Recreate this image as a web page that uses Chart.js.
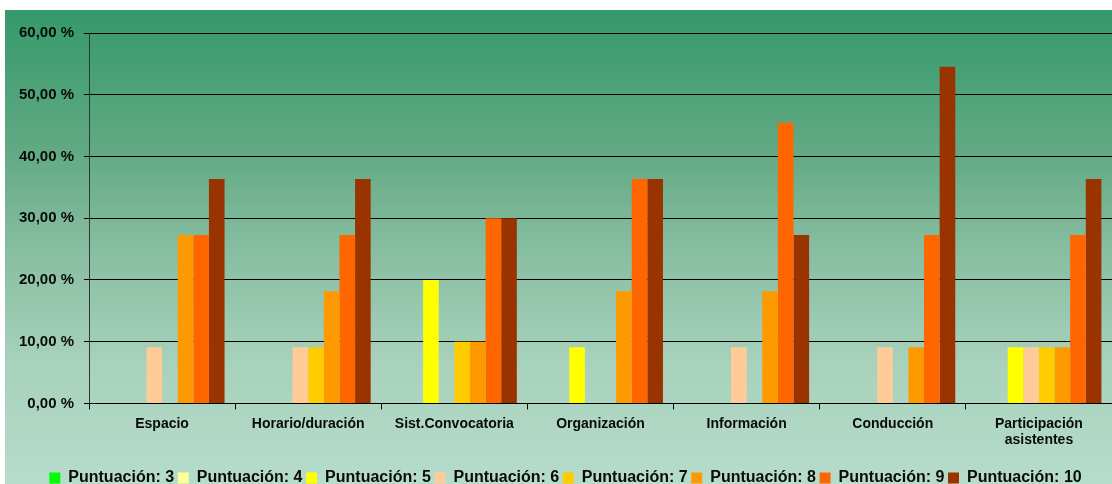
<!DOCTYPE html>
<html>
<head>
<meta charset="utf-8">
<script src="https://cdn.jsdelivr.net/npm/chart.js@4"></script>
<style>
  html, body { margin: 0; padding: 0; background: #ffffff; }
  #wrap { position: absolute; left: 5px; top: 10px; width: 1107px; height: 474px; }
</style>
</head>
<body>
<div id="wrap"><canvas id="encuesta"></canvas></div>
<script>
const categorias = ['Espacio', 'Horario/duración', 'Sist.Convocatoria', 'Organización', 'Información', 'Conducción', ['Participación', 'asistentes']];

const punt3  = [0, 0, 0, 0, 0, 0, 0];
const punt4  = [0, 0, 0, 0, 0, 0, 0];
const punt5  = [0, 0, 20, 9.09, 0, 0, 9.09];
const punt6  = [9.09, 9.09, 0, 0, 9.09, 9.09, 9.09];
const punt7  = [0, 9.09, 10, 0, 0, 0, 9.09];
const punt8  = [27.27, 18.18, 10, 18.18, 18.18, 9.09, 9.09];
const punt9  = [27.27, 27.27, 30, 36.36, 45.45, 27.27, 27.27];
const punt10 = [36.36, 36.36, 30, 36.36, 27.27, 54.55, 36.36];

const series = [
  { label: 'Puntuación: 3',  data: punt3,  color: '#00ff00' },
  { label: 'Puntuación: 4',  data: punt4,  color: '#ffff99' },
  { label: 'Puntuación: 5',  data: punt5,  color: '#ffff00' },
  { label: 'Puntuación: 6',  data: punt6,  color: '#ffcc99' },
  { label: 'Puntuación: 7',  data: punt7,  color: '#ffcc00' },
  { label: 'Puntuación: 8',  data: punt8,  color: '#ff9900' },
  { label: 'Puntuación: 9',  data: punt9,  color: '#ff6600' },
  { label: 'Puntuación: 10', data: punt10, color: '#993300' }
];

// fondo degradado verde
const fondo = {
  id: 'fondo',
  beforeDraw(chart) {
    const c = chart.ctx;
    const g = c.createLinearGradient(0, 0, 0, chart.height);
    g.addColorStop(0, '#35996a');
    g.addColorStop(0.3, '#62aa84');
    g.addColorStop(0.5, '#86bda0');
    g.addColorStop(0.75, '#a8d2bc');
    g.addColorStop(1, '#b6dccb');
    c.save();
    c.fillStyle = g;
    c.fillRect(0, 0, chart.width, chart.height);
    c.restore();
  }
};

// la leyenda va un poco desplazada a la derecha y abajo
const moverLeyenda = {
  id: 'moverLeyenda',
  afterLayout(chart) {
    const l = chart.legend;
    l.left += 7; l.right += 7;
    l.top += 2; l.bottom += 2;
  }
};

const ctx = document.getElementById('encuesta').getContext('2d');
new Chart(ctx, {
  type: 'bar',
  data: {
    labels: categorias,
    datasets: series.map(s => ({
      label: s.label,
      data: s.data,
      backgroundColor: s.color,
      borderWidth: 0,
      categoryPercentage: 0.855,
      barPercentage: 1.0
    }))
  },
  options: {
    responsive: true,
    maintainAspectRatio: false,
    animation: false,
    layout: { padding: { top: 23, right: 0, bottom: -10, left: 0 } },
    scales: {
      x: {
        grid: { display: true, drawOnChartArea: false, color: '#000000', tickLength: 6 },
        border: { color: '#000000', width: 1 },
        ticks: {
          color: '#0a0a0a',
          font: { family: 'Liberation Sans, Arial, sans-serif', size: 14, weight: 'bold' },
          padding: 6,
          maxRotation: 0,
          autoSkip: false
        },
        afterFit(scale) { scale.height = 61; }
      },
      y: {
        min: 0,
        max: 60,
        grid: { color: '#000000', lineWidth: 1, tickLength: 5 },
        border: { color: '#333333', width: 1 },
        ticks: {
          stepSize: 10,
          color: '#0a0a0a',
          padding: 10,
          font: { family: 'Liberation Sans, Arial, sans-serif', size: 15, weight: 'bold' },
          callback: v => v.toFixed(2).replace('.', ',') + ' %'
        },
        afterFit(scale) { scale.width = 84; }
      }
    },
    plugins: {
      legend: {
        display: true,
        position: 'bottom',
        labels: {
          boxWidth: 11,
          boxHeight: 11,
          padding: 3.6,
          color: '#0a0a0a',
          font: { family: 'Liberation Sans, Arial, sans-serif', size: 16, weight: 'bold' }
        }
      },
      tooltip: { enabled: false }
    }
  },
  plugins: [fondo, moverLeyenda]
});
</script>
</body>
</html>
